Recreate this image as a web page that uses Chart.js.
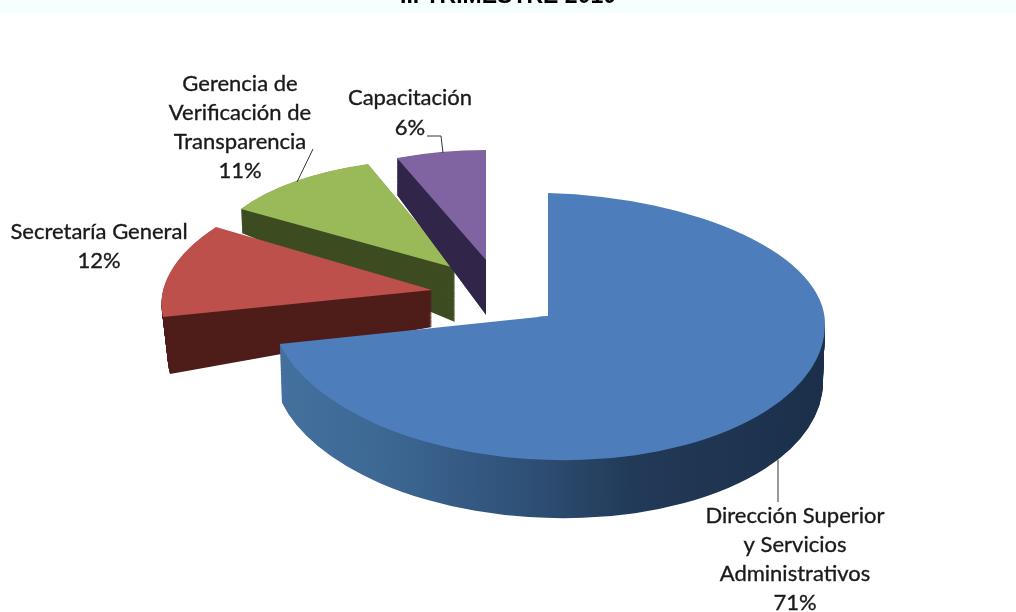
<!DOCTYPE html>
<html>
<head>
<meta charset="utf-8">
<style>
  html,body{margin:0;padding:0;background:#fff;overflow:hidden}
  canvas{display:block}
</style>
<script src="https://cdn.jsdelivr.net/npm/chart.js@4"></script>
</head>
<body>
<canvas id="pie" width="1016" height="612"></canvas>
<script>
const categories = ['Dirección Superior y Servicios Administrativos','Secretaría General','Gerencia de Verificación de Transparencia','Capacitación']
const shares = [71,12,11,6]
const labelLines = [
  ['Dirección Superior','y Servicios','Administrativos'],
  ['Secretaría General'],
  ['Gerencia de','Verificación de','Transparencia'],
  ['Capacitación']
]
const topColors = ['#4d7ebb','#be504c','#9aba59','#8064a2']
const sideColors = ['#2c4c72','#4f1e1a','#3e4d22','#31264a']

const RADIUS = 200
const TITLE = 'II. TRIMESTRE 2010'

// how each exploded slice sits on the page: [a,b,c,d,e,f] per unit of radius, top face then bottom face
const views = [
  { top:[277,8,0,144,548,316], bottom:[275,8,0,144,548,374], back:[277,8,0,123,548,316] },
  { top:[267.8,3.9,-38.7,123.7,432,290], bottom:[262.1,-16,-32.6,126.7,432,327] },
  { top:[246.4,7.5,-4,108.9,455,268], bottom:[244.9,42.1,-3.4,108.1,455,322] },
  { top:[241.8,-0.7,0,110,486,260], bottom:[241.8,48.1,0,110,486,315] }
]
const drawOrder = [2,3,1,0]

// label placement: centre x, first line y, line step
const labelPos = [
  { x:795, y:516, step:29 },
  { x:99, y:232, step:29 },
  { x:240, y:84, step:29 },
  { x:410, y:98, step:30 }
]
const leaders = [
  [[778,460],[778,502]],
  [],
  [[313,149],[297,182]],
  [[427,136],[441,136],[443,153]]
]

function paintArc(ctx, arc, m, fill, cx, cy, clip) {
  ctx.save()
  ctx.transform(m[0]/RADIUS, m[1]/RADIUS, m[2]/RADIUS, m[3]/RADIUS, m[4], m[5])
  ctx.translate(-cx, -cy)
  if (clip) {
    ctx.beginPath()
    if (clip === 'lower') ctx.rect(cx-RADIUS-5, cy, 2*RADIUS+10, RADIUS+5)
    else ctx.rect(cx-RADIUS-5, cy-RADIUS-5, 2*RADIUS+10, RADIUS+7)
    ctx.clip()
  }
  const saved = arc.options
  arc.options = { ...saved, backgroundColor: fill, borderWidth: 0 }
  arc.draw(ctx)
  arc.options = saved
  ctx.restore()
}

const pie3d = {
  id: 'pie3d',
  beforeDatasetsDraw(chart) {
    const ctx = chart.ctx
    const arcs = chart.getDatasetMeta(0).data
    drawOrder.forEach(i => {
      const arc = arcs[i], v = views[i]
      const cx = arc.x, cy = arc.y
      let side = sideColors[i]
      if (i === 0) {
        side = ctx.createLinearGradient(cx-RADIUS, 0, cx+RADIUS, 0)
        side.addColorStop(0, '#44719f')
        side.addColorStop(0.2, '#3d6894')
        side.addColorStop(0.45, '#2f5178')
        side.addColorStop(0.65, '#223a58')
        side.addColorStop(1, '#1b2f4a')
      }
      const steps = 70
      for (let s = steps; s > 0; s--) {
        const t = s/steps
        const m = v.top.map((n,k) => n + (v.bottom[k]-n)*t)
        paintArc(ctx, arc, m, side, cx, cy, i === 0 ? 'lower' : null)
      }
      if (v.back) {
        paintArc(ctx, arc, v.back, topColors[i], cx, cy, 'upper')
        paintArc(ctx, arc, v.top, topColors[i], cx, cy, 'lower')
      } else {
        paintArc(ctx, arc, v.top, topColors[i], cx, cy)
      }
    })
    return false
  },
  afterDraw(chart) {
    const ctx = chart.ctx
    ctx.save()
    // leader lines
    ctx.strokeStyle = '#333'
    ctx.lineWidth = 1
    leaders.forEach(l => {
      if (!l.length) return
      ctx.beginPath()
      l.forEach((p,i) => i ? ctx.lineTo(p[0],p[1]) : ctx.moveTo(p[0],p[1]))
      ctx.stroke()
    })
    // data labels
    ctx.fillStyle = '#1a1a1a'
    ctx.strokeStyle = '#1a1a1a'
    ctx.lineWidth = 0.35
    ctx.font = '22px Lato'
    ctx.textAlign = 'center'
    ctx.textBaseline = 'middle'
    labelLines.forEach((lines,i) => {
      const p = labelPos[i]
      lines.concat(shares[i]+'%').forEach((txt,k) => {
        ctx.fillText(txt, p.x, p.y + k*p.step)
        ctx.strokeText(txt, p.x, p.y + k*p.step)
      })
    })
    // title, cut off by the top of the picture
    ctx.fillStyle = '#000'
    ctx.font = 'bold 23px "Liberation Sans"'
    ctx.textBaseline = 'alphabetic'
    ctx.fillText(TITLE, 508, 3)
    ctx.restore()
  },
  beforeDraw(chart) {
    chart.ctx.fillStyle = '#f6ffff'
    chart.ctx.fillRect(0, 0, 1016, 13)
  }
}

new Chart(document.getElementById('pie'), {
  type: 'pie',
  data: {
    labels: categories,
    datasets: [{ data: shares, backgroundColor: topColors, borderWidth: 0 }]
  },
  options: {
    responsive: false,
    animation: false,
    events: [],
    radius: RADIUS,
    plugins: { legend: { display: false }, tooltip: { enabled: false } }
  },
  plugins: [pie3d]
})
</script>
</body>
</html>
